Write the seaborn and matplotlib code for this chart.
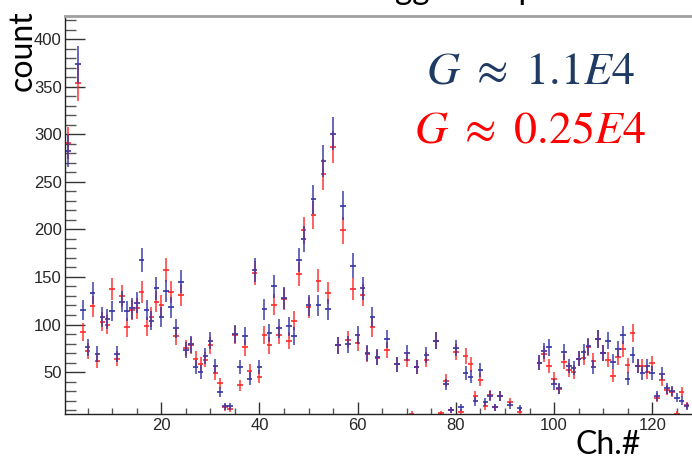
import numpy as np
import pandas as pd
import matplotlib
matplotlib.use("Agg")
import matplotlib.pyplot as plt
import seaborn as sns
from matplotlib.ticker import MultipleLocator, FixedLocator

nan = np.nan
channels = list(range(1, 128))

blue_counts = [
    283, nan, 374, 115, 76, 133, 69, 108, 106, 114,
    69, 124, 114, 117, 123, 168, 115, 104, 138, 108,
    135, 118, 96, 145, 73, 79, 55, 50, 67, 83,
    56, 29, 14, 14, 90, 55, 88, 43, 157, 55,
    116, 91, 140, 96, 128, 98, 88, 168, 190, 120,
    232, 120, 272, 116, 301, 78, 225, 79, 162, 89,
    138, 70, 108, 66, nan, 85, nan, 58, nan, 70,
    nan, 55, nan, 68, nan, 83, nan, 37, 10, 75,
    13, 49, 45, 19, 52, 18, 25, 13, 25, nan,
    15, nan, 12, nan, nan, nan, 60, 72, 76, 37,
    33, 71, 56, 54, 64, 71, 77, 55, 85, 70,
    83, 61, 74, 89, 43, 68, 56, 49, 56, 49,
    25, 48, 33, 30, 23, 20, 14,
]

red_counts = [
    291, nan, 354, 92, 72, 119, 62, 103, 100, 137,
    64, 130, 97, 115, 117, 134, 98, 108, 124, 120,
    157, 134, 88, 131, 75, 78, 64, 58, 63, 78,
    49, 38, 13, 11, 89, 36, 76, 51, 154, 45,
    89, 78, 121, 89, 127, 83, 104, 153, 199, 118,
    215, 146, 258, 133, 287, 78, 199, 84, 137, 81,
    131, 69, 97, 65, nan, 73, nan, 58, nan, 63,
    6, 55, nan, 63, nan, 83, 6.5, 41, 10, 71,
    8, 67, 58, 25, 42, 14, 26, 13, 25, nan,
    18, nan, 8, nan, nan, nan, 60, 69, 56, 43,
    32, 61, 52, 50, 64, 65, 76, 62, 85, 70,
    63, 46, 66, 74, 57, 91, 56, 56, 50, 59,
    23, 42, 31, 29, 6, 29, 15,
]

series_names = ["G ≈ 0.25E4", "G ≈ 1.1E4"]
x_ticks = [20, 40, 60, 80, 100, 120]
y_ticks = [50, 100, 150, 200, 250, 300, 350, 400]

sns.set_theme(style="white")
plt.rcParams['font.family'] = ['Liberation Sans', 'DejaVu Sans']
plt.rcParams['mathtext.fontset'] = 'stix'

df = pd.concat([
    pd.DataFrame({"ch": channels, "count": red_counts, "series": series_names[0]}),
    pd.DataFrame({"ch": channels, "count": blue_counts, "series": series_names[1]}),
], ignore_index=True).dropna()
df["err"] = np.sqrt(df["count"])

colors = {series_names[0]: "#ff2a2a", series_names[1]: "#3434a6"}

fig = plt.figure(figsize=(6.92, 4.61), dpi=100)
ax = fig.add_axes([0.0944, 0.1013, 0.9056, 0.8647])

for name in series_names:
    sub = df[df["series"] == name]
    ax.errorbar(sub["ch"], sub["count"], yerr=sub["err"], fmt="none",
                ecolor=colors[name], elinewidth=1.3, alpha=0.8, capsize=0)

sns.scatterplot(data=df, x="ch", y="count", hue="series", palette=colors,
                hue_order=series_names, marker="_", s=16, linewidth=1.2,
                legend=False, ax=ax)

ax.set_xlim(0.45, 128.1)
ax.set_ylim(5.5, 425)
ax.set_xlabel("")
ax.set_ylabel("")

ax.xaxis.set_major_locator(FixedLocator(x_ticks))
ax.xaxis.set_minor_locator(MultipleLocator(5))
ax.yaxis.set_major_locator(FixedLocator(y_ticks))
ax.yaxis.set_minor_locator(MultipleLocator(10))

ax.tick_params(axis='y', which='major', direction='in', length=14.4, width=1,
               color='#333333', left=True, right=False, labelsize=12, pad=2.5)
ax.tick_params(axis='y', which='minor', direction='in', length=7.7, width=1,
               color='#555555', left=True, right=False)
ax.tick_params(axis='x', which='major', direction='in', length=8.6, width=1,
               color='#333333', bottom=True, top=False, labelsize=12, pad=3)
ax.tick_params(axis='x', which='minor', direction='in', length=4.3, width=1,
               color='#555555', bottom=True, top=False)

for side in ["left", "bottom"]:
    ax.spines[side].set_color("#222222")
    ax.spines[side].set_linewidth(1.0)
ax.spines["top"].set_color("#a0a0a0")
ax.spines["top"].set_linewidth(2.0)
ax.spines["right"].set_visible(False)

label_font = ['Lato', 'DejaVu Sans']
fig.text(0.033, 0.978, "count", rotation=90, ha="center", va="top",
         fontsize=23, family=label_font, color="black")
fig.text(0.831, 0.016, "Ch.#", ha="left", va="baseline",
         fontsize=23, family=label_font, color="black")
fig.text(355 / 692, 1.002, "Triggered spectrum", ha="left", va="baseline",
         fontsize=24, family=label_font, color="black")

fig.text(530 / 692, 1 - 83 / 461, r"$G\ \approx\ 1.1E4$", ha="center",
         va="baseline", fontsize=33, color="#1f3a63")
fig.text(530 / 692, 1 - 142 / 461, r"$G\ \approx\ 0.25E4$", ha="center",
         va="baseline", fontsize=33, color="#ff0000")

fig.savefig("out.png", dpi=100)
